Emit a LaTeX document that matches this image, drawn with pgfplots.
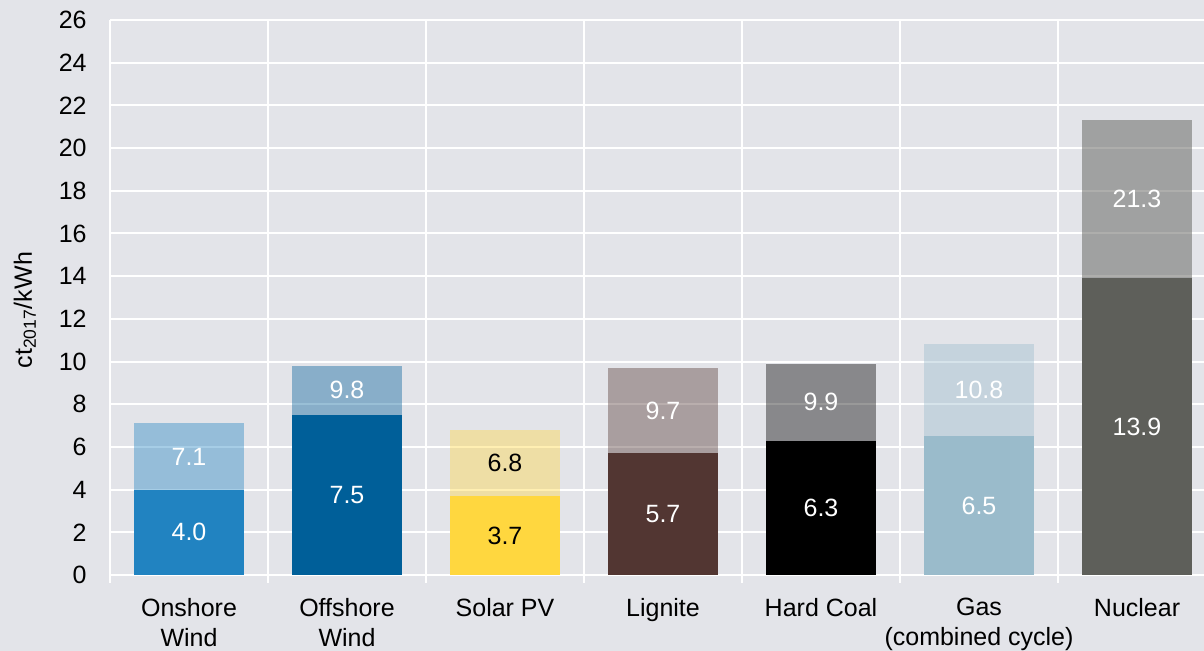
\documentclass[border=0pt]{standalone}
\usepackage{pgfplots}
\pgfplotsset{compat=1.18}
\usepackage{fontspec}
\setmainfont{Liberation Sans}
\definecolor{bg}{HTML}{E3E4E9}
\definecolor{onL}{HTML}{2183C1}
\definecolor{offL}{HTML}{005F99}
\definecolor{solL}{HTML}{FFD73F}
\definecolor{ligL}{HTML}{523632}
\definecolor{coalL}{HTML}{000000}
\definecolor{gasL}{HTML}{9ABBCB}
\definecolor{nucL}{HTML}{5E5F5A}
\begin{document}
\begin{tikzpicture}
\path[use as bounding box, fill=bg] (0,0) rectangle (602pt,325.5pt);
\begin{axis}[
  at={(55pt,38pt)}, anchor=south west,
  scale only axis, width=547pt, height=277.5pt,
  xmin=-0.5, xmax=6.424, ymin=0, ymax=26,
  axis line style={draw=none},
  xtick={0,1,2,3,4,5,6},
  xticklabels={Onshore\\Wind, Offshore\\Wind, Solar PV, Lignite, Hard Coal, Gas\\(combined cycle), Nuclear},
  minor xtick={-0.5,0.5,1.5,2.5,3.5,4.5,5.5,6.5},
  ytick={0,2,...,26},
  xmajorgrids=false, xminorgrids=true, ymajorgrids=true,
  major grid style={white, line width=1pt},
  minor grid style={white, line width=1pt},
  major tick length=0pt, minor tick length=4pt,
  tick align=outside, xtick pos=bottom, ytick pos=left,
  every tick/.style={white, line width=1pt},
  minor tick style={white, line width=1pt},
  /pgf/number format/assume math mode=true,
  tick label style={font=\fontsize{12.5}{15}\selectfont},
  yticklabel style={inner sep=0pt, xshift=-11.5pt},
  xticklabel style={align=center, inner sep=0pt, anchor=north, yshift=-11.5pt},
  ylabel={ct\textsubscript{2017}/kWh},
  ylabel style={font=\fontsize{12.5}{15}\selectfont, at={(axis description cs:0,0.477)}, anchor=center, yshift=42.5pt, inner sep=0pt},
  mybar/.style={ybar, bar width=55pt, bar shift=0pt, draw=none},
  clip=false,
]
% upper values (full bars, translucent)
\addplot[mybar, fill=onL, fill opacity=0.4] coordinates {(0,7.1)};
\addplot[mybar, fill=offL, fill opacity=0.4] coordinates {(1,9.8)};
\addplot[mybar, fill=solL, fill opacity=0.4] coordinates {(2,6.8)};
\addplot[mybar, fill=ligL, fill opacity=0.4] coordinates {(3,9.7)};
\addplot[mybar, fill=coalL, fill opacity=0.4] coordinates {(4,9.9)};
\addplot[mybar, fill=gasL, fill opacity=0.4] coordinates {(5,10.8)};
\addplot[mybar, fill=nucL, fill opacity=0.5] coordinates {(6,21.3)};
% lower values (opaque)
\addplot[mybar, fill=onL] coordinates {(0,4.0)};
\addplot[mybar, fill=offL] coordinates {(1,7.5)};
\addplot[mybar, fill=solL] coordinates {(2,3.7)};
\addplot[mybar, fill=ligL] coordinates {(3,5.7)};
\addplot[mybar, fill=coalL] coordinates {(4,6.3)};
\addplot[mybar, fill=gasL] coordinates {(5,6.5)};
\addplot[mybar, fill=nucL] coordinates {(6,13.9)};
% value labels
\addplot[only marks, mark=none, nodes near coords, point meta=explicit symbolic,
  every node near coord/.append style={anchor=center, text=white, font=\fontsize{12.5}{15}\selectfont}]
  coordinates {(0,5.55)[7.1] (0,2.0)[4.0] (1,8.65)[9.8] (1,3.75)[7.5]
    (3,7.7)[9.7] (3,2.85)[5.7] (4,8.1)[9.9] (4,3.15)[6.3]
    (5,8.65)[10.8] (5,3.25)[6.5] (6,17.6)[21.3] (6,6.95)[13.9]};
\addplot[only marks, mark=none, nodes near coords, point meta=explicit symbolic,
  every node near coord/.append style={anchor=center, text=black, font=\fontsize{12.5}{15}\selectfont}]
  coordinates {(2,5.25)[6.8] (2,1.85)[3.7]};
\end{axis}
\end{tikzpicture}
\end{document}
